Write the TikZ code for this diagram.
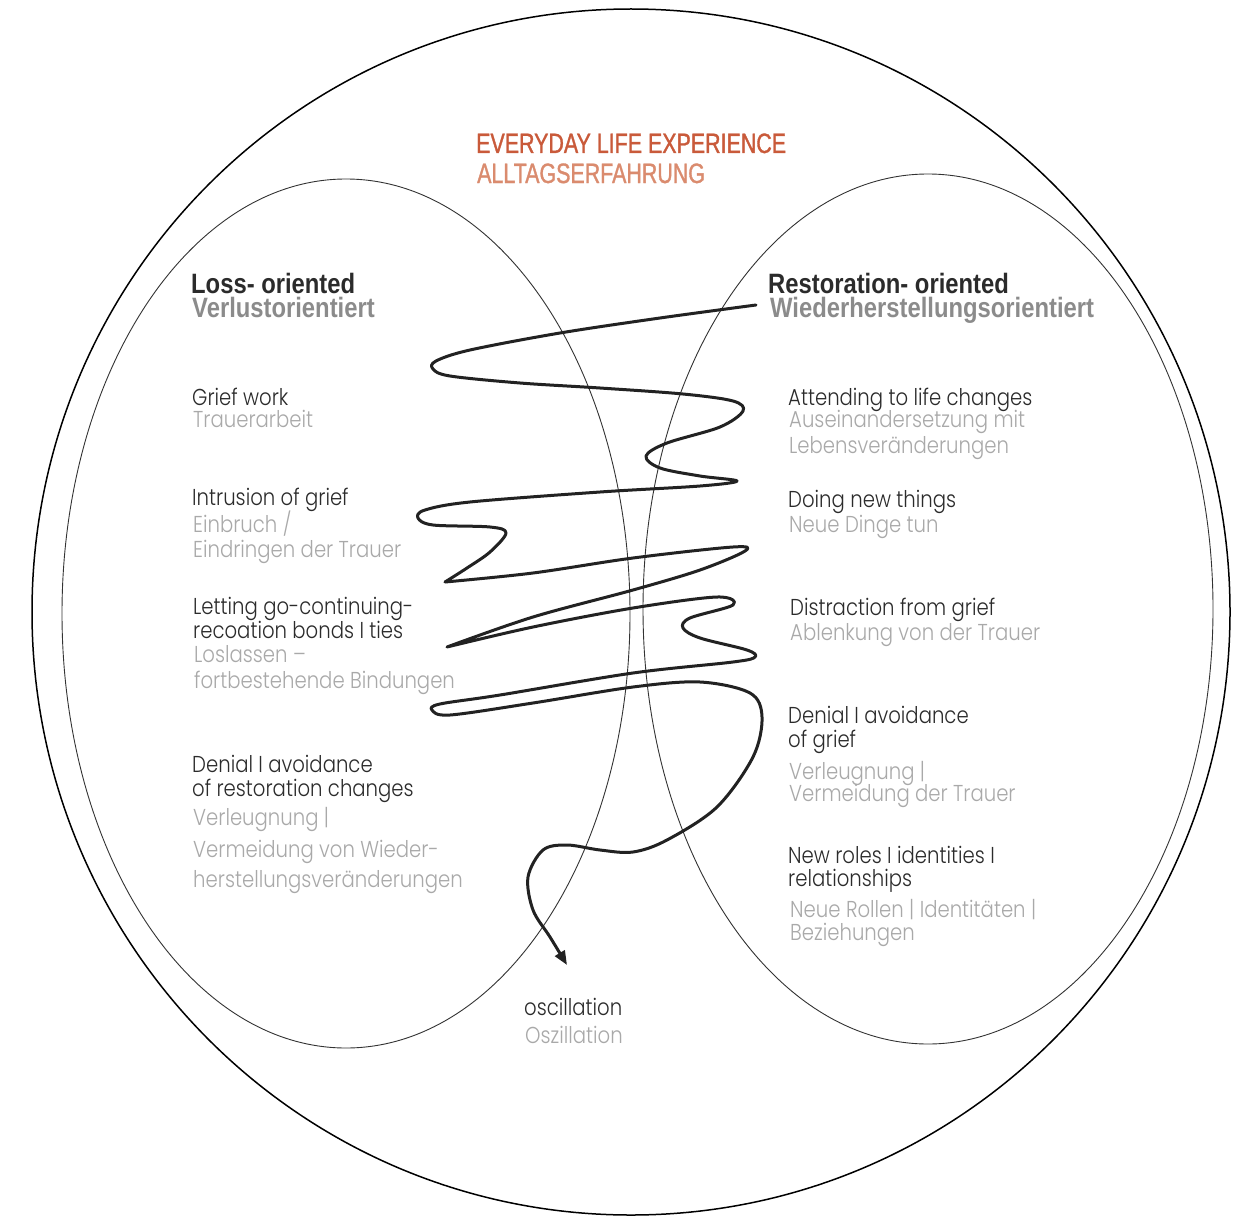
\documentclass[tikz,border=0pt]{standalone}
\usepackage{fontspec}
\usetikzlibrary{arrows.meta}
\newfontfamily\bodyfont[FakeStretch=0.855]{Poppins Light}
\newfontfamily\headfont[FakeStretch=0.85]{Liberation Sans}
\newfontfamily\titlefont[FakeStretch=0.765,FakeBold=1.2]{Liberation Sans}
\definecolor{textblack}{HTML}{2B2B2B}
\definecolor{textgray}{HTML}{A9A9A9}
\definecolor{headgray}{HTML}{8B8B8B}
\definecolor{orangeA}{HTML}{C95A3A}
\definecolor{orangeB}{HTML}{DA8B6E}
\definecolor{squigc}{HTML}{222222}
\tikzset{
  en/.style={anchor=base west, inner sep=0pt, text=textblack, font=\bodyfont\fontsize{23}{26}\selectfont},
  de/.style={en, text=textgray},
  hen/.style={anchor=base west, inner sep=0pt, text=textblack, font=\headfont\bfseries\fontsize{28}{30}\selectfont},
  hde/.style={hen, text=headgray},
  ttl/.style={anchor=base west, inner sep=0pt, text=orangeA, font=\titlefont\fontsize{28}{30}\selectfont},
  ttlde/.style={ttl, text=orangeB},
  outerring/.style={draw=black, line width=1.5pt},
  lobe/.style={draw=black!80, line width=0.9pt},
  squig/.style={draw=squigc, line width=3pt, line join=round, line cap=round, -{Triangle[length=14pt,width=11pt]}}
}
\begin{document}
\begin{tikzpicture}[x=1pt,y=-1pt]
\useasboundingbox (0,0) rectangle (1249,1217);
\fill[white] (0,0) rectangle (1249,1217);
% circles
\draw[outerring] (631,612) ellipse [x radius=599pt, y radius=603pt];
\draw[lobe] (346,613.5) ellipse [x radius=284pt, y radius=434.5pt];
\draw[lobe] (928,609) ellipse [x radius=285pt, y radius=435pt];
% title
\node[ttl] (t1) at (476,153) {EVERYDAY LIFE EXPERIENCE};
\node[ttlde] (t2) at (477,183) {ALLTAGSERFAHRUNG};
% headings
\node[hen] (hl1) at (191,293) {Loss- oriented};
\node[hde] (hl2) at (192,317) {Verlustorientiert};
\node[hen] (hr1) at (768,293) {Restoration- oriented};
\node[hde] (hr2) at (770,317) {Wiederherstellungsorientiert};
% left column
\node[en] (la1) at (192,405) {Grief work};
\node[de] (la2) at (193,427) {Trauerarbeit};
\node[en] (lb1) at (192,505) {Intrusion of grief};
\node[de] (lb2) at (193,532) {Einbruch /};
\node[de] (lb3) at (193,557) {Eindringen der Trauer};
\node[en] (lc1) at (193,614) {Letting go-continuing-};
\node[en] (lc2) at (193,638) {recoation bonds I ties};
\node[de] (lc3) at (194,662) {Loslassen –};
\node[de] (lc4) at (194,688) {fortbestehende Bindungen};
\node[en] (ld1) at (192,772) {Denial I avoidance};
\node[en] (ld2) at (192,796) {of restoration changes};
\node[de] (ld3) at (193,825) {Verleugnung |};
\node[de] (ld4) at (193,857) {Vermeidung von Wieder-};
\node[de] (ld5) at (193,887) {herstellungsveränderungen};
% right column
\node[en] (ra1) at (788,405) {Attending to life changes};
\node[de] (ra2) at (789,427) {Auseinandersetzung mit};
\node[de] (ra3) at (789,453) {Lebensveränderungen};
\node[en] (rb1) at (788,507) {Doing new things};
\node[de] (rb2) at (789,532) {Neue Dinge tun};
\node[en] (rc1) at (790,615) {Distraction from grief};
\node[de] (rc2) at (790,640) {Ablenkung von der Trauer};
\node[en] (rd1) at (788,723) {Denial I avoidance};
\node[en] (rd2) at (788,747) {of grief};
\node[de] (rd3) at (789,779) {Verleugnung |};
\node[de] (rd4) at (789,801) {Vermeidung der Trauer};
\node[en] (re1) at (788,863) {New roles I identities I};
\node[en] (re2) at (788,886) {relationships};
\node[de] (re3) at (790,917) {Neue Rollen | Identitäten |};
\node[de] (re4) at (790,940) {Beziehungen};
% oscillation
\node[en] (os1) at (524,1015) {oscillation};
\node[de] (os2) at (525,1043) {Oszillation};
% squiggle
\coordinate (sqstart) at (756,305);
\coordinate (osctip) at (567,965);
\draw[squig] plot[smooth, tension=0.55] coordinates {
 (sqstart) (660,318) (560,333) (470,350) (436,361) (433,369) (450,376) (520,383) (600,388) (683,394)
 (733,401) (743,411) (720,427) (667,443) (646,456) (660,468) (700,476) (737,481) (700,486)
 (600,492) (470,502) (425,510) (418,518) (433,525) (490,527) (506,533) (490,552) (467,568) (445,582)}
 -- plot[smooth, tension=0.55] coordinates {
 (445,582) (533,573) (633,558) (733,547) (745,551) (700,570) (633,590) (533,617) (447,647)}
 -- plot[smooth, tension=0.55] coordinates {
 (447,647) (533,627) (633,608) (717,597) (733,605) (690,618) (683,628) (700,638) (747,650) (755,657)
 (733,662) (633,673) (500,695) (440,704) (432,710) (450,715) (533,703) (633,687) (700,682) (750,693)
 (762,717) (753,757) (717,807) (667,840) (633,852) (600,850) (567,845) (543,850) (528,877) (533,910)
 (550,937) (osctip)};
\end{tikzpicture}
\end{document}
